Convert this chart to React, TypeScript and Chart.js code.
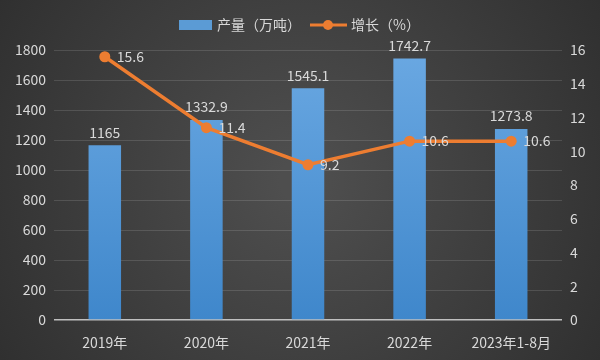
import React, { useEffect, useRef } from "react";
import { Chart, registerables } from "chart.js";

Chart.register(...registerables);

const categories = ["2019年", "2020年", "2021年", "2022年", "2023年1-8月"];
const outputValues = [1165, 1332.9, 1545.1, 1742.7, 1273.8];
const growthValues = [15.6, 11.4, 9.2, 10.6, 10.6];
const outputLabel = "产量（万吨）";
const growthLabel = "增长（%）";

const FONT = "'Noto Sans CJK SC', 'Noto Sans', sans-serif";
const TEXT = "#d9d9d9";
const ORANGE = "#ed7d31";

const bgPlugin = {
  id: "bg",
  beforeDraw(chart: any) {
    const { ctx, width, height } = chart;
    ctx.save();
    const g = ctx.createRadialGradient(width / 2, height / 2, 20, width / 2, height / 2, width * 0.6);
    g.addColorStop(0, "#4e4e4e");
    g.addColorStop(1, "#2f2f2f");
    ctx.fillStyle = g;
    ctx.fillRect(0, 0, width, height);
    ctx.restore();
  },
};

const legendPlugin = {
  id: "customLegend",
  afterDraw(chart: any) {
    const { ctx } = chart;
    ctx.save();
    ctx.font = `14px ${FONT}`;
    ctx.textBaseline = "middle";
    const y = 25;
    ctx.fillStyle = "#5b9bd5";
    ctx.fillRect(179, 20, 33, 10);
    ctx.fillStyle = TEXT;
    ctx.textAlign = "left";
    ctx.fillText(outputLabel, 217, y);
    ctx.strokeStyle = ORANGE;
    ctx.lineWidth = 3;
    ctx.beginPath();
    ctx.moveTo(310, y);
    ctx.lineTo(347, y);
    ctx.stroke();
    ctx.fillStyle = ORANGE;
    ctx.beginPath();
    ctx.arc(328, y, 5, 0, Math.PI * 2);
    ctx.fill();
    ctx.fillStyle = TEXT;
    ctx.fillText(growthLabel, 351, y);
    ctx.restore();
  },
};

const dataLabelPlugin = {
  id: "dataLabels",
  afterDatasetsDraw(chart: any) {
    const { ctx } = chart;
    ctx.save();
    ctx.font = `14px ${FONT}`;
    ctx.fillStyle = TEXT;
    const barMeta = chart.getDatasetMeta(0);
    barMeta.data.forEach((el: any, i: number) => {
      ctx.textAlign = "center";
      ctx.textBaseline = "bottom";
      ctx.fillText(String(outputValues[i]), el.x, el.y - 6);
    });
    const lineMeta = chart.getDatasetMeta(1);
    lineMeta.data.forEach((el: any, i: number) => {
      ctx.textAlign = "left";
      ctx.textBaseline = "middle";
      ctx.fillText(growthValues[i].toFixed(1), el.x + 12, el.y);
    });
    ctx.restore();
  },
};

export default function App() {
  const ref = useRef<HTMLCanvasElement | null>(null);
  useEffect(() => {
    if (!ref.current) return;
    const ctx = ref.current.getContext("2d")!;
    const barGrad = ctx.createLinearGradient(0, 50, 0, 320);
    barGrad.addColorStop(0, "#6aa8e2");
    barGrad.addColorStop(1, "#3f87cb");
    const chart = new Chart(ref.current, {
      type: "bar",
      data: {
        labels: categories,
        datasets: [
          {
            type: "bar",
            label: outputLabel,
            data: outputValues,
            backgroundColor: barGrad,
            borderWidth: 0,
            categoryPercentage: 1,
            barPercentage: 0.32,
            yAxisID: "y",
            order: 2,
          },
          {
            type: "line",
            label: growthLabel,
            data: growthValues,
            borderColor: ORANGE,
            backgroundColor: ORANGE,
            borderWidth: 3.5,
            pointRadius: 5.5,
            pointBackgroundColor: ORANGE,
            pointBorderWidth: 0,
            tension: 0,
            yAxisID: "y1",
            order: 1,
          } as any,
        ],
      },
      options: {
        animation: false,
        responsive: false,
        layout: { padding: { top: 50, left: 0, right: 0, bottom: 0 } },
        plugins: {
          legend: { display: false },
          tooltip: { enabled: false },
        },
        scales: {
          x: {
            grid: { display: false },
            border: { display: false },
            ticks: { color: TEXT, font: { family: FONT, size: 14 }, padding: 6, maxRotation: 0 },
            afterFit: (s: any) => { s.height = 40; },
          },
          y: {
            position: "left",
            min: 0,
            max: 1800,
            ticks: {
              stepSize: 200,
              color: TEXT,
              font: { family: FONT, size: 14 },
              padding: 8,
              callback: (v: any) => String(v),
            },
            grid: {
              color: (c: any) => (c.tick && c.tick.value === 0 ? "#bfbfbf" : "rgba(255,255,255,0.13)"),
              lineWidth: (c: any) => (c.tick && c.tick.value === 0 ? 1.5 : 1),
              drawTicks: false,
            },
            border: { display: false },
            afterFit: (s: any) => { s.width = 54; },
          },
          y1: {
            position: "right",
            min: 0,
            max: 16,
            ticks: {
              stepSize: 2,
              color: TEXT,
              font: { family: FONT, size: 14 },
              padding: 8,
              callback: (v: any) => String(v),
            },
            grid: { display: false, drawTicks: false },
            border: { display: false },
            afterFit: (s: any) => { s.width = 38; },
          },
        },
      },
      plugins: [bgPlugin, legendPlugin, dataLabelPlugin],
    });
    return () => chart.destroy();
  }, []);
  return (
    <div style={{ position: "fixed", left: 0, top: 0, width: 600, height: 360 }}>
      <canvas ref={ref} width={600} height={360} style={{ width: 600, height: 360, display: "block" }} />
    </div>
  );
}
